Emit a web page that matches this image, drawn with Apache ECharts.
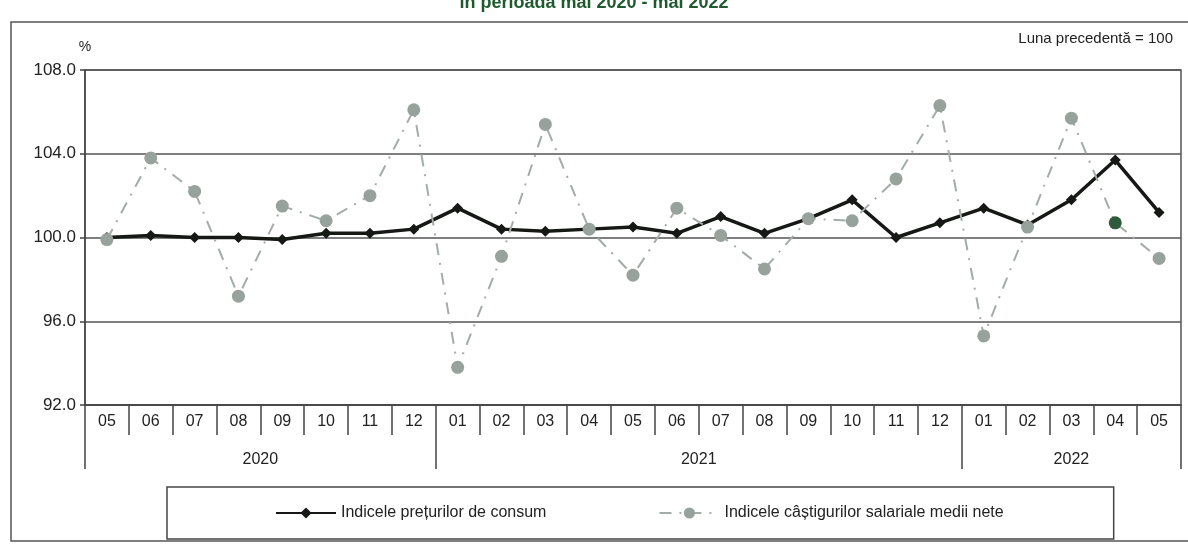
<!DOCTYPE html>
<html>
<head>
<meta charset="utf-8">
<script src="https://cdn.jsdelivr.net/npm/echarts@6/dist/echarts.min.js"></script>
<style>
  html, body { margin: 0; padding: 0; background: #fff; }
  #chart { width: 1188px; height: 544px; }
</style>
</head>
<body>
<div id="chart"></div>
<script>
// Month labels, May 2020 - May 2022
const months = ['05','06','07','08','09','10','11','12',
                '01','02','03','04','05','06','07','08','09','10','11','12',
                '01','02','03','04','05'];
// Year captions placed on a half-month grid (51 positions over 25 months)
const yearSlots = { 8: '2020', 28: '2021', 45: '2022' };
// Long separator ticks on the half-month grid: left edge, year breaks, right edge
const yearBreaks = [0, 16, 40, 50];

// Consumer price index, previous month = 100
const cpi = [100.0, 100.1, 100.0, 100.0, 99.9, 100.2, 100.2, 100.4,
             101.4, 100.4, 100.3, 100.4, 100.5, 100.2, 101.0, 100.2, 100.9, 101.8, 100.0, 100.7,
             101.4, 100.6, 101.8, 103.7, 101.2];
// Average net wage index, previous month = 100
const wages = [99.9, 103.8, 102.2, 97.2, 101.5, 100.8, 102.0, 106.1,
               93.8, 99.1, 105.4, 100.4, 98.2, 101.4, 100.1, 98.5, 100.9, 100.8, 102.8, 106.3,
               95.3, 100.5, 105.7, 100.7, 99.0];

const yTicks = { min: 92, max: 108, step: 4 };

const seriesNames = ['Indicele prețurilor de consum', 'Indicele câștigurilor salariale medii nete'];

const halfGrid = Array.from({ length: 51 }, (_, j) => yearSlots[j] || '');

const FONT = '"Liberation Sans", Arial, sans-serif';

const chart = echarts.init(document.getElementById('chart'), null, { renderer: 'canvas' });

chart.setOption({
  backgroundColor: '#ffffff',
  animation: false,
  textStyle: { fontFamily: FONT },
  title: [
    {
      text: 'în perioada mai 2020 - mai 2022',
      left: 'center',
      top: -11,
      textStyle: { fontFamily: FONT, fontSize: 18, fontWeight: 'bold', color: '#1f5a2e' }
    },
    {
      text: 'Luna precedentă = 100',
      right: 10,
      top: 26,
      textStyle: { fontFamily: FONT, fontSize: 15, fontWeight: 'normal', color: '#222' }
    }
  ],
  graphic: [
    {
      type: 'rect',
      shape: { x: 11, y: 22, width: 1190, height: 519 },
      style: { fill: 'none', stroke: '#555', lineWidth: 1.5 },
      silent: true,
      z: -1
    }
  ],
  legend: {
    left: 167,
    top: 487,
    padding: [18, 110, 18, 108],
    borderColor: '#444',
    borderWidth: 1.5,
    itemWidth: 60,
    itemHeight: 14,
    itemGap: 112,
    textStyle: { fontFamily: FONT, fontSize: 16, color: '#222' },
    data: seriesNames
  },
  grid: {
    left: 85,
    right: 7,
    top: 70,
    bottom: 139,
    show: true,
    borderColor: '#555',
    borderWidth: 1.5,
    containLabel: false
  },
  xAxis: [
    {
      type: 'category',
      data: months,
      boundaryGap: true,
      position: 'bottom',
      axisLine: { show: true, lineStyle: { color: '#444', width: 1.5 } },
      axisTick: { show: true, interval: 0, length: 30, lineStyle: { color: '#444', width: 1.5 } },
      axisLabel: { interval: 0, margin: 9, fontSize: 16, color: '#222', fontFamily: FONT },
      splitLine: { show: false }
    },
    {
      type: 'category',
      data: halfGrid,
      boundaryGap: false,
      position: 'bottom',
      offset: 0,
      axisLine: { show: false },
      axisTick: {
        show: true,
        length: 64,
        interval: (i) => yearBreaks.includes(i),
        lineStyle: { color: '#444', width: 1.5 }
      },
      axisLabel: {
        margin: 47,
        fontSize: 16,
        color: '#222',
        fontFamily: FONT,
        interval: (i, v) => v !== ''
      },
      splitLine: { show: false }
    }
  ],
  yAxis: {
    type: 'value',
    min: yTicks.min,
    max: yTicks.max,
    interval: yTicks.step,
    name: '%',
    nameLocation: 'end',
    nameGap: 16,
    nameTextStyle: { fontFamily: FONT, fontSize: 14, color: '#222', align: 'center' },
    axisLine: { show: true, lineStyle: { color: '#444', width: 1.5 } },
    axisTick: { show: true, length: 5, lineStyle: { color: '#444', width: 1.5 } },
    axisLabel: {
      margin: 9,
      fontSize: 17,
      color: '#222',
      fontFamily: FONT,
      formatter: (v) => v.toFixed(1)
    },
    splitLine: { show: true, lineStyle: { color: '#555', width: 1.5 } }
  },
  series: [
    {
      name: seriesNames[0],
      type: 'line',
      data: cpi,
      symbol: 'diamond',
      symbolSize: 11,
      color: '#151815',
      lineStyle: { color: '#151815', width: 3.5 },
      itemStyle: { color: '#151815' },
      z: 2
    },
    {
      name: seriesNames[1],
      type: 'line',
      data: wages.map((v, i) => i === 23 ? { value: v, itemStyle: { color: '#2f5a3c' } } : v),
      symbol: 'circle',
      symbolSize: 13,
      color: '#9aa39e',
      lineStyle: { color: '#a4aca8', width: 2, type: [12, 8, 2, 8] },
      itemStyle: { color: '#98a29c' },
      z: 3
    }
  ]
});
</script>
</body>
</html>
